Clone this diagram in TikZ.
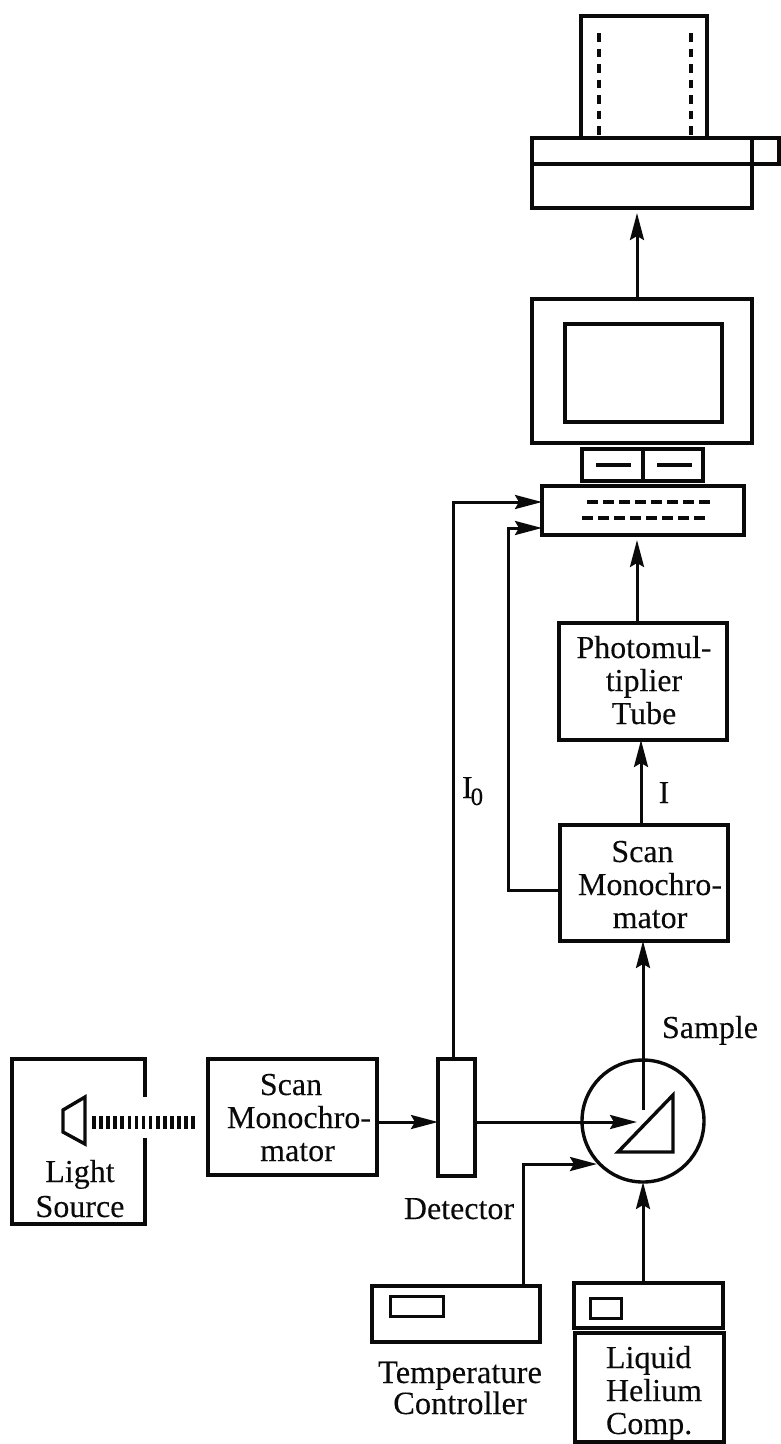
\documentclass[tikz,border=0pt]{standalone}
\usepackage{fontspec}
\setmainfont[FakeBold=0.12]{Liberation Serif}
\usetikzlibrary{arrows.meta}
\definecolor{ink}{HTML}{0A0A0A}
\tikzset{
  x=1pt,y=-1pt,
  boxed/.style={draw=ink,line width=3.4pt,inner sep=0pt,outer sep=0pt},
  thin box/.style={boxed,line width=3pt},
  conn/.style={draw=ink,line width=3pt},
  arr/.style={conn,-{Stealth[length=27pt,width=14pt,inset=4pt]}},
  txt/.style={inner sep=0pt,outer sep=0pt,anchor=base,text=ink,font=\fontsize{32}{33}\selectfont},
  lines/.style={txt,text width=220pt,align=center},
  dots/.style={draw=ink,line width=3.8pt,dash pattern=on 11pt off 5pt},
  vdots/.style={draw=ink,line width=4pt,dash pattern=on 8.5pt off 7pt},
}
\newcommand{\boxat}[6][boxed]{\node[#1,minimum width=#4pt-#2pt,minimum height=#5pt-#3pt] (#6) at ({(#2+#4)/2},{(#3+#5)/2})}
\begin{document}
\begin{tikzpicture}
\useasboundingbox (0,0) rectangle (781,1444);
% reference lines
\coordinate (beam) at (0,1122);
\coordinate (axis) at (643,0);
\coordinate (upx) at (637,0);
% printer
\boxat{581}{16}{707}{138}{paper} {};
\draw[vdots] (599,33) -- (599,138);
\draw[vdots] (691,33) -- (691,138);
\boxat{532}{138}{752}{208}{printer} {};
\draw[boxed] (532,164) -- (752,164);
\boxat{752}{138}{779}{164}{tray} {};
% monitor
\boxat{532}{299}{752}{443}{monitor} {};
\boxat{565}{324}{722}{422}{screen} {};
% drives
\boxat{582}{449}{643}{481}{driveA} {};
\boxat{643}{449}{703}{481}{driveB} {};
\draw[draw=ink,line width=3.6pt] (596,465) -- (631,465);
\draw[draw=ink,line width=3.6pt] (657,465) -- (692,465);
% computer
\boxat{542}{486}{744}{535}{comp} {};
\draw[dots] (587,502) -- (711,502);
\draw[dots] (582,518) -- (706,518);
% PMT
\boxat{559}{623}{727}{740}{pmt} {};
\node[lines] (pmttext) at (644,658) {Photomul-\\tiplier\\Tube};
% Scan mono 2
\boxat{560}{825}{728}{941}{monoB} {};
\node[lines] (monoBtext) at (642.5,862) {Scan\\\hspace*{15pt}Monochro-\\\hspace*{15pt}mator};
% Light source
\draw[boxed] (145,1097) -- (145,1059) -- (12,1059) -- (12,1224) -- (145,1224) -- (145,1138);
\draw[boxed,line join=miter] (85,1097) -- (63,1110) -- (63,1132) -- (85,1144) -- cycle;
\node[lines,font=\fontsize{32}{35}\selectfont] (lighttext) at (80,1182) {Light\\Source};
\draw[draw=ink,line width=13pt,dash pattern=on 3.6pt off 3.5pt] (92,1122) -- (197,1122);
% Scan mono 1
\boxat{208}{1059}{377}{1175}{monoA} {};
\node[lines] (monoAtext) at (291,1095) {Scan\\\hspace*{16pt}Monochro-\\\hspace*{13pt}mator};
% detector
\boxat{438}{1059}{475}{1176}{det} {};
\node[txt] (detlabel) at (459,1219) {Detector};
% sample
\node[draw=ink,line width=3.4pt,circle,minimum size=122pt,inner sep=0pt,outer sep=0pt] (sample) at (643,1121) {};
\draw[boxed,line join=miter] (673,1095) -- (673,1152) -- (618,1152) -- cycle;
\coordinate (prism) at (643,1110);
\coordinate (prismIn) at (637,1122);
\node[txt] (samplelabel) at (710,1038) {Sample};
% temperature controller
\boxat{372}{1286}{540}{1342}{temp} {};
\boxat[thin box]{390}{1296}{443}{1316}{tempd} {};
\node[lines,font=\fontsize{32.5}{31}\selectfont] (templabel) at (460,1383) {Temperature\\Controller};
% helium
\boxat{574}{1283}{723}{1328}{heA} {};
\boxat[thin box]{590}{1298}{621}{1318}{hed} {};
\boxat{575}{1333}{724}{1442}{heB} {};
\node[txt,text width=120pt,align=left,anchor=base west] (hetext) at (606,1368) {Liquid\\Helium\\Comp.};
% connector labels
\node[txt] (ilabel) at (664,803) {I};
\node[txt,anchor=base west] (iolabel) at (462,798) {I\kern-2pt\raisebox{-7pt}{\fontsize{25}{25}\selectfont 0}};
% connectors
\draw[arr] (monoA.east |- beam) -- (det.west |- beam);
\draw[arr] (det.east |- beam) -- (prismIn);
\draw[arr] (prism) -- (prism |- monoB.south);
\draw[arr] (monoB.north -| 641,0) -- (pmt.south -| 641,0);
\draw[arr] (pmt.north -| upx) -- ([yshift=-5pt]comp.south -| upx);
\draw[arr] (monitor.north -| upx) -- ([yshift=-5pt]printer.south -| upx);
\coordinate (i0x) at (453,0);
\coordinate (i0y) at (0,502);
\draw[arr] (det.north -| i0x) -- (i0x |- i0y) -- (comp.west |- i0y);
\coordinate (bx) at (508,0);
\coordinate (by) at (0,528);
\coordinate (bstart) at (0,890);
\draw[arr] (monoB.west |- bstart) -- (bx |- bstart) -- (bx |- by) -- (comp.west |- by);
\coordinate (tx) at (523,0);
\coordinate (ty) at (0,1164);
\draw[arr] (temp.north -| tx) -- (tx |- ty) -- (597,1164);
\draw[arr] (heA.north -| axis) -- (sample.south);
\end{tikzpicture}
\end{document}
